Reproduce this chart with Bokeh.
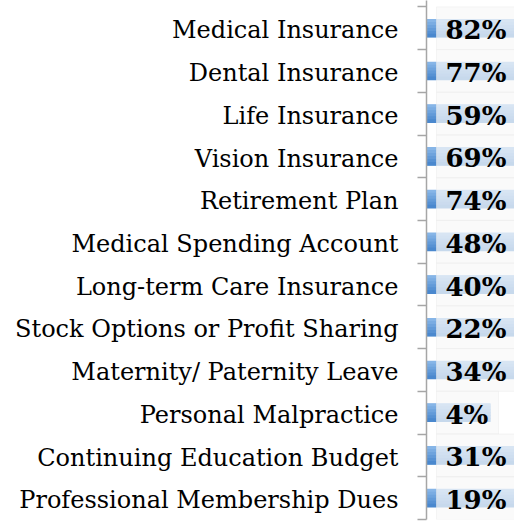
from bokeh.plotting import figure
from bokeh.models import Range1d, FixedTicker
from bokeh.core.properties import value
from bokeh.embed import file_html
from bokeh.resources import INLINE

categories = ["Medical Insurance", "Dental Insurance", "Life Insurance", "Vision Insurance",
              "Retirement Plan", "Medical Spending Account", "Long-term Care Insurance",
              "Stock Options or Profit Sharing", "Maternity/ Paternity Leave",
              "Personal Malpractice", "Continuing Education Budget",
              "Professional Membership Dues"]
percent = [82, 77, 59, 69, 74, 48, 40, 22, 34, 4, 31, 19]

n = len(categories)
centers = [i + 0.5 for i in range(n)]
labels = [f"{v}%" for v in percent]

PX = 16.0  # pixels per data unit in the visible window
p = figure(width=514, height=521, output_backend="svg", toolbar_location=None,
           x_range=Range1d(0, 88 / PX), y_range=Range1d(n, -0.15),
           min_border_left=426, min_border_right=0, min_border_top=0, min_border_bottom=2)
p.grid.visible = False
p.outline_line_color = None
p.xaxis.visible = False

# bars with a vertical gradient
bar_h = 0.42
p.hbar(y=centers, left=0, right=percent, height=bar_h, fill_color="#6aa3dc", line_color=None)
steps = 6
top_col = (140, 186, 234)
bot_col = (68, 132, 204)
for k in range(steps):
    t = (k + 0.5) / steps
    c = tuple(int(top_col[j] + (bot_col[j] - top_col[j]) * t) for j in range(3))
    ys = [cy - bar_h / 2 + (k + 0.5) * bar_h / steps for cy in centers]
    p.hbar(y=ys, left=0, right=percent, height=bar_h / steps * 1.25,
           fill_color="#%02x%02x%02x" % c, line_color=None)

# translucent label boxes
box_left = 10 / PX
box_right = [(19 + 21 * len(str(v)) + 22 + 10) / PX for v in percent]
p.quad(left=box_left, right=box_right, top=[i for i in range(n)], bottom=[i + 1 for i in range(n)],
       fill_color="#f8f8f8", fill_alpha=0.72, line_color="#ebebeb", line_alpha=0.5)

p.text(x=0, y=centers, text=labels, x_offset=19, y_offset=2, text_baseline="middle",
       text_font=value("DejaVu Serif"), text_font_style="bold", text_font_size="26px",
       text_color="black")

ax = p.yaxis[0]
ax.ticker = FixedTicker(ticks=[c + 0.05 for c in centers], minor_ticks=list(range(n + 1)))
ax.major_label_overrides = {c + 0.05: cat for c, cat in zip(centers, categories)}
ax.major_tick_out = 0
ax.major_tick_in = 0
ax.minor_tick_out = 9
ax.minor_tick_in = 0
ax.minor_tick_line_color = "#a6a6a6"
ax.minor_tick_line_width = 1.5
ax.axis_line_color = "#a6a6a6"
ax.axis_line_width = 1.5
ax.major_label_standoff = 19
ax.major_label_text_font = "DejaVu Serif"
ax.major_label_text_font_size = "24px"
ax.major_label_text_color = "black"

open("out.html", "w").write(file_html(p, INLINE))
